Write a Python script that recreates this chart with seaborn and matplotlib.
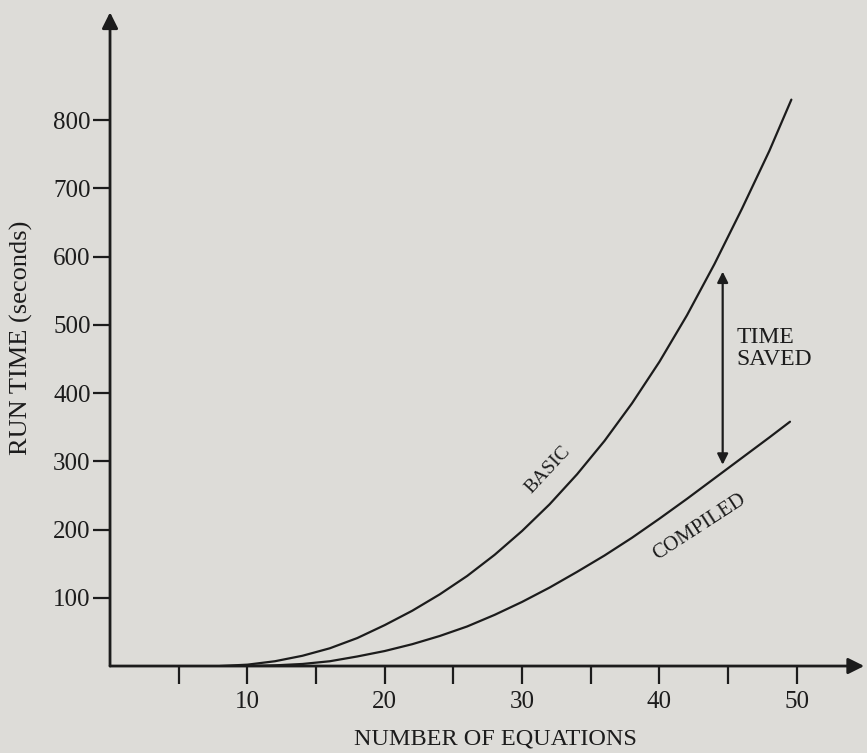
import pandas as pd
import seaborn as sns
import matplotlib.pyplot as plt
from matplotlib.ticker import MultipleLocator

# values
basic_x = [8, 10, 12, 14, 16, 18, 20, 22, 24, 26, 28, 30, 32, 34, 36, 38, 40, 42, 44, 46, 48, 49.6]
basic_y = [0, 2, 7, 15, 26, 41, 60, 81, 105, 132, 163, 198, 237, 281, 330, 385, 446, 514, 589, 670, 755, 830]

compiled_x = [10, 12, 14, 16, 18, 20, 22, 24, 26, 28, 30, 32, 34, 36, 38, 40, 42, 44, 46, 48, 49.5]
compiled_y = [0, 1, 3, 7, 14, 22, 32, 44, 58, 75, 94, 115, 138, 162, 188, 216, 245, 275, 305, 335, 358]

y_ticks = [100, 200, 300, 400, 500, 600, 700, 800]
x_ticks = [10, 20, 30, 40, 50]

saved_x = 44.6
saved_low, saved_high = 295, 578

df = pd.concat([
    pd.DataFrame({"n": basic_x, "t": basic_y, "kind": "BASIC"}),
    pd.DataFrame({"n": compiled_x, "t": compiled_y, "kind": "COMPILED"}),
])

sns.set_style("white")
plt.rcParams['font.family'] = ['Liberation Serif', 'DejaVu Serif']
bg = "#dddcd8"
ink = "#1c1c1c"

fig = plt.figure(figsize=(8.67, 7.53), dpi=100, facecolor=bg)
ax = fig.add_axes([0.1269, 0.1155, 0.873, 0.8845])
ax.set_facecolor(bg)

sns.lineplot(data=df, x="n", y="t", units="kind", estimator=None, sort=False,
             color=ink, linewidth=1.6, ax=ax)

ax.set_xlim(0, 55.1)
ax.set_ylim(0, 976)
for s in ax.spines.values():
    s.set_visible(False)

# axes drawn as arrows
ax.annotate("", xy=(54.9, 0), xytext=(0, 0), annotation_clip=False,
            arrowprops=dict(arrowstyle="-|>", lw=2, color=ink, mutation_scale=24, shrinkA=0, shrinkB=0))
ax.annotate("", xy=(0, 958), xytext=(0, 0), annotation_clip=False,
            arrowprops=dict(arrowstyle="-|>", lw=2, color=ink, mutation_scale=24, shrinkA=0, shrinkB=0))

ax.set_yticks(y_ticks)
ax.set_xticks(x_ticks)
ax.xaxis.set_minor_locator(MultipleLocator(5))
ax.tick_params(axis="y", which="both", left=True, direction="out", length=12, width=1.6,
               color=ink, labelsize=18, pad=2, labelcolor=ink)
ax.tick_params(axis="x", which="both", bottom=True, direction="out", length=13, width=1.6,
               color=ink, labelsize=18, pad=5, labelcolor=ink)
ax.set_xticks([5, 15, 25, 35, 45], minor=True)

ax.set_xlabel("NUMBER OF EQUATIONS", fontsize=17.5, color=ink)
ax.set_ylabel("RUN TIME (seconds)", fontsize=19, color=ink)
ax.xaxis.set_label_coords(0.509, -0.094)
ax.yaxis.set_label_coords(-0.102, 0.4925)

ax.annotate("", xy=(saved_x, saved_high), xytext=(saved_x, saved_low),
            arrowprops=dict(arrowstyle="<|-|>", lw=1.6, color=ink, mutation_scale=16, shrinkA=0, shrinkB=0))
ax.text(45.6, 497, "TIME\nSAVED", fontsize=17, color=ink, ha="left", va="top", linespacing=1.1)

ax.text(31.9, 287, "BASIC", fontsize=14, color=ink, ha="center", va="center", rotation=47)
ax.text(42.9, 203, "COMPILED", fontsize=15, color=ink, ha="center", va="center", rotation=33)

fig.savefig("out.png", dpi=100, facecolor=bg)
